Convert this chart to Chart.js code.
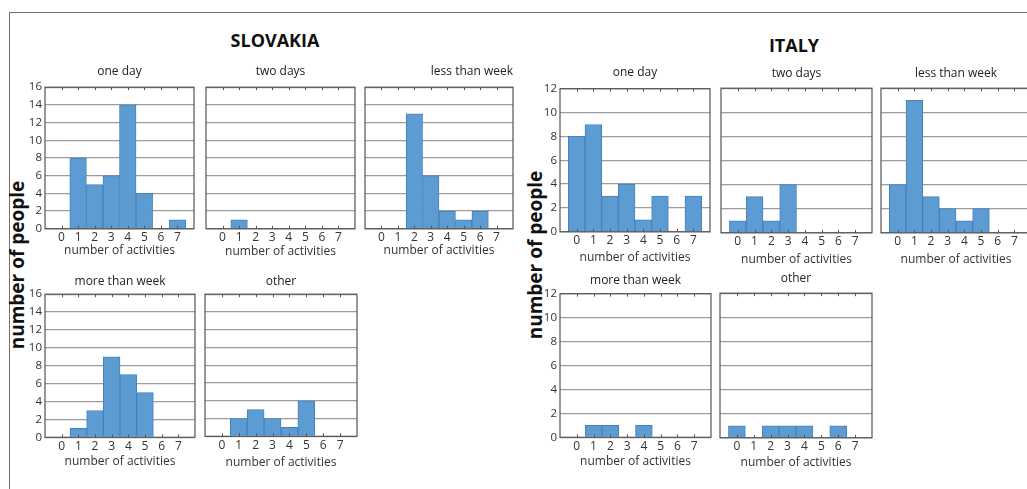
<!DOCTYPE html>
<html>
<head>
<meta charset="utf-8">
<script src="https://cdn.jsdelivr.net/npm/chart.js@4.4.1/dist/chart.umd.min.js"></script>
<style>
  html, body { margin: 0; padding: 0; background: #fff; width: 1027px; height: 489px; overflow: hidden; }
  #frame { position: absolute; left: 9px; top: 12px; width: 1100px; height: 600px;
           border-top: 1.5px solid #707070; border-left: 1.5px solid #707070; }
  canvas { position: absolute; }
  .country { position: absolute; font: bold 18px "Open Sans"; color: #111;
             transform: translate(-50%, -50%); white-space: nowrap; }
  .ylab { position: absolute; font: bold 19px "Open Sans"; color: #111; white-space: nowrap;
          transform: translate(-50%, -50%) rotate(-90deg); }
</style>
</head>
<body>
<div id="frame"></div>
<div class="country" style="left:275px; top:40px;">SLOVAKIA</div>
<div class="country" style="left:794px; top:45px;">ITALY</div>
<div class="ylab" style="left:17px; top:265px;">number of people</div>
<div class="ylab" style="left:535px; top:255px;">number of people</div>
<script>
// bins on the x axis
const binLabels = [0, 1, 2, 3, 4, 5, 6, 7];
const xTitle = "number of activities";
const panelTitles = ["one day", "two days", "less than week", "more than week", "other"];

// Slovakia counts per bin
const skOneDay   = [0, 8, 5, 6, 14, 4, 0, 1];
const skTwoDays  = [0, 1, 0, 0, 0, 0, 0, 0];
const skLessWeek = [0, 0, 13, 6, 2, 1, 2, 0];
const skMoreWeek = [0, 1, 3, 9, 7, 5, 0, 0];
const skOther    = [0, 2, 3, 2, 1, 4, 0, 0];

// Italy counts per bin
const itOneDay   = [8, 9, 3, 4, 1, 3, 0, 3];
const itTwoDays  = [1, 3, 1, 4, 0, 0, 0, 0];
const itLessWeek = [4, 11, 3, 2, 1, 2, 0, 0];
const itMoreWeek = [0, 1, 1, 0, 1, 0, 0, 0];
const itOther    = [1, 0, 1, 1, 1, 0, 1, 0];

const skYMax = 16;
const itYMax = 12;
const yStep = 2;

const barFill = "#5d9bd3";
const barEdge = "#4682bd";
const gridColor = "#9c9c9c";
const frameColor = "#555";
const textColor = "#333";

// plot boxes: l, t, r, b in page pixels; tg = title gap, xg = x title gap
const panels = [
  { data: skOneDay,   title: 0, ymax: skYMax, showY: true,  l: 45,  t: 87,  r: 194,  b: 228, tg: 16,   xg: 22 },
  { data: skTwoDays,  title: 1, ymax: skYMax, showY: false, l: 206, t: 87,  r: 355,  b: 228, tg: 16,   xg: 23 },
  { data: skLessWeek, title: 2, ymax: skYMax, showY: false, l: 365, t: 87,  r: 513,  b: 228, tg: 16,   xg: 22, align: "end" },
  { data: skMoreWeek, title: 3, ymax: skYMax, showY: true,  l: 45,  t: 294, r: 195,  b: 437, tg: 13,   xg: 24.5 },
  { data: skOther,    title: 4, ymax: skYMax, showY: false, l: 205, t: 294, r: 357,  b: 436, tg: 13,   xg: 26.5 },
  { data: itOneDay,   title: 0, ymax: itYMax, showY: true,  l: 560, t: 89,  r: 710,  b: 232, tg: 16.5, xg: 26 },
  { data: itTwoDays,  title: 1, ymax: itYMax, showY: false, l: 721, t: 88,  r: 872,  b: 232, tg: 15,   xg: 27 },
  { data: itLessWeek, title: 2, ymax: itYMax, showY: false, l: 881, t: 88,  r: 1031, b: 232, tg: 15,   xg: 27 },
  { data: itMoreWeek, title: 3, ymax: itYMax, showY: true,  l: 560, t: 294, r: 711,  b: 437, tg: 13.5, xg: 24.5 },
  { data: itOther,    title: 4, ymax: itYMax, showY: false, l: 720, t: 293, r: 872,  b: 437, tg: 15,   xg: 25 },
];

const frameAndTicks = {
  id: "frameAndTicks",
  afterDatasetsDraw(chart) {
    const a = chart.chartArea;
    const xs = chart.scales.x;
    const ctx = chart.ctx;
    ctx.save();
    ctx.strokeStyle = frameColor;
    ctx.lineWidth = 1;
    binLabels.forEach((v) => {
      const x = Math.round(xs.getPixelForValue(v)) + 0.5;
      ctx.beginPath();
      ctx.moveTo(x, a.top);
      ctx.lineTo(x, a.top + 3);
      ctx.moveTo(x, a.bottom);
      ctx.lineTo(x, a.bottom - 3);
      ctx.stroke();
    });
    ctx.lineWidth = 1.2;
    ctx.strokeRect(a.left, a.top, a.right - a.left, a.bottom - a.top);
    ctx.restore();
  },
};

const YW = 30;
const PR = 3;
const titleLine = 12 * 1.2;
const axisFont = 12;

panels.forEach((p) => {
  const titlePad = p.tg - titleLine / 2;
  const titleH = titleLine + titlePad;
  const XH = p.xg + axisFont * 1.2 / 2;
  const plotW = p.r - p.l;
  const plotH = p.b - p.t;

  const canvas = document.createElement("canvas");
  const w = YW + plotW + PR;
  const h = Math.ceil(titleH + plotH + XH);
  canvas.width = w;
  canvas.height = h;
  canvas.style.left = (p.l - YW) + "px";
  canvas.style.top = (p.t - titleH) + "px";
  canvas.style.width = w + "px";
  canvas.style.height = h + "px";
  document.body.appendChild(canvas);

  new Chart(canvas.getContext("2d"), {
    type: "bar",
    data: {
      datasets: [{
        data: binLabels.map((x, i) => ({ x: x, y: p.data[i] === 0 ? null : p.data[i] })),
        backgroundColor: barFill,
        borderColor: barEdge,
        borderWidth: 1,
        barPercentage: 1,
        categoryPercentage: 1,
      }],
    },
    options: {
      responsive: false,
      animation: false,
      events: [],
      layout: { padding: { left: 0, right: PR, top: 0, bottom: 0 } },
      plugins: {
        legend: { display: false },
        tooltip: { enabled: false },
        title: {
          display: true,
          fullSize: false,
          align: p.align || "center",
          text: panelTitles[p.title],
          color: "#222",
          font: { family: "Open Sans", size: 12, weight: "normal" },
          padding: { top: 0, bottom: titlePad },
        },
      },
      scales: {
        x: {
          type: "linear",
          min: -1,
          max: 8,
          offset: false,
          grid: { display: false, drawTicks: false },
          border: { display: false },
          afterFit(s) { s.height = XH; },
          ticks: {
            stepSize: 1,
            autoSkip: false,
            maxRotation: 0,
            padding: 2,
            color: textColor,
            font: { family: "Open Sans", size: axisFont },
            callback(v) { return binLabels.includes(v) ? String(v) : ""; },
          },
          title: {
            display: true,
            text: xTitle,
            color: textColor,
            font: { family: "Open Sans", size: axisFont },
            padding: { top: 0, bottom: 0 },
          },
        },
        y: {
          min: 0,
          max: p.ymax,
          grid: { color: gridColor, lineWidth: 1.3, drawTicks: false },
          border: { display: false },
          afterFit(s) { s.width = YW; },
          ticks: {
            display: p.showY,
            stepSize: yStep,
            padding: 3,
            color: textColor,
            font: { family: "Open Sans", size: 11.5 },
          },
        },
      },
    },
    plugins: [frameAndTicks],
  });
});
</script>
</body>
</html>
